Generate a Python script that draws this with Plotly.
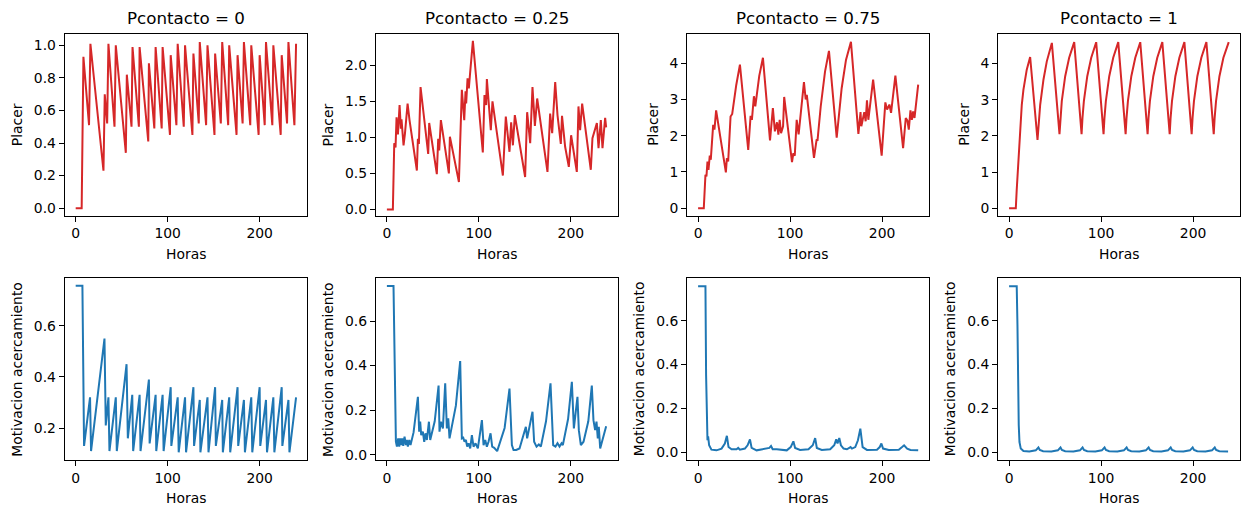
import plotly.graph_objects as go

# ---------------- data ----------------
titles = ["Pcontacto = 0", "Pcontacto = 0.25", "Pcontacto = 0.75", "Pcontacto = 1"]
top_label = "Placer"
bottom_label = "Motivacion acercamiento"
x_label = "Horas"

placer_p0_x = [0, 6.5, 8.4, 14.5, 16, 30.2, 31.6, 34.2, 35.6, 42.2, 43.6, 54.5, 55.6, 60.7, 61.8, 68.7, 69.5,
               78.9, 79.6, 85.5, 86.9, 93.5, 94.5, 102.5, 103.3, 109.5, 110.9, 117.5, 118.9, 126.9, 128,
               133.8, 134.9, 141.8, 143.3, 150.9, 151.6, 157.8, 159.3, 165.8, 166.9, 174.9, 176, 181.5,
               182.9, 189.8, 190.9, 198.9, 200, 205.5, 206.9, 213.8, 214.9, 222.9, 224, 229.8, 231.3,
               237.8, 239.6]
placer_p0_y = [0, 0, 0.93, 0.51, 1.01, 0.23, 0.70, 0.52, 1.01, 0.50, 1.00, 0.34, 0.82, 0.50, 0.99, 0.50, 0.99,
               0.41, 0.89, 0.49, 0.99, 0.49, 0.99, 0.45, 0.94, 0.51, 1.01, 0.50, 1.00, 0.45, 0.95,
               0.52, 1.02, 0.51, 1.00, 0.45, 0.95, 0.52, 1.02, 0.51, 1.00, 0.45, 0.94, 0.52,
               1.02, 0.51, 1.00, 0.45, 0.94, 0.51, 1.02, 0.51, 1.00, 0.45, 0.94, 0.52, 1.02,
               0.51, 1.01]

motiv_p0_x = [0, 7.3, 9.1, 15.6, 16.7, 31.3, 32.7, 35.6, 36.7, 43.6, 44.7, 55.3, 56.7, 61.5, 62.5, 69.5, 70.5,
              79.6, 80.4, 86.9, 87.6, 94.5, 95.6, 103.3, 104, 110.9, 112, 118.9, 120, 128, 128.7, 134.9,
              135.6, 143.3, 144.4, 151.6, 152.4, 159.3, 160, 166.9, 168, 176, 176.7, 182.9, 184, 190.9,
              192, 200, 200.7, 206.9, 208, 214.9, 216, 224, 224.7, 231.3, 232.4, 239.6]
motiv_p0_y = [0.757, 0.757, 0.13, 0.32, 0.11, 0.55, 0.21, 0.32, 0.11, 0.32, 0.11, 0.45, 0.16, 0.33, 0.11, 0.33, 0.11,
              0.39, 0.14, 0.33, 0.11, 0.33, 0.11, 0.36, 0.13, 0.32, 0.105, 0.32, 0.105, 0.36, 0.13, 0.31,
              0.105, 0.32, 0.105, 0.36, 0.13, 0.31, 0.105, 0.32, 0.105, 0.36, 0.13, 0.31, 0.105, 0.32,
              0.105, 0.36, 0.13, 0.31, 0.105, 0.32, 0.105, 0.36, 0.13, 0.31, 0.105, 0.32]

placer_p025_x = [0, 6.5, 8.0, 9.4, 10.5, 12.0, 13.8, 15.2, 15.9, 18.1, 19.6, 22.5, 24.6, 32.6, 33.7, 34.8, 36.6,
                 44.9, 46.0, 54.3, 55.8, 56.9, 58.7, 67.4, 68.5, 78.3, 81.5, 84.1, 85.5, 86.2, 87.7, 89.1,
                 90.2, 93.5, 104.3, 106.1, 107.9, 108.7, 113.0, 114.8, 126.1, 127.8, 129.3, 133.3, 135.1,
                 137.0, 139.1, 150.3, 152.5, 155.8, 158.3, 160.9, 163.4, 174.6, 176.1, 177.5, 179.7, 183.0,
                 185.5, 189.1, 190.4, 193.8, 197.8, 200.3, 206.5, 208.3, 210.1, 212.3,
                 221.7, 223.5, 228.3, 230.1, 232.6, 234.4, 237.3, 238.4]
placer_p025_y = [0, 0, 0.92, 0.86, 1.28, 1.04, 1.45, 1.12, 1.25, 0.89, 1.05, 1.47, 1.24, 0.54, 0.98, 0.91, 1.70,
                 0.77, 1.20, 0.49, 0.98, 0.82, 1.24, 0.50, 1.01, 0.38, 1.66, 1.24, 1.64, 1.47, 1.82, 1.68,
                 1.85, 2.34, 0.79, 1.59, 1.45, 1.81, 1.10, 1.50, 0.47, 0.95, 1.29, 0.80, 1.21,
                 0.89, 1.31, 0.45, 1.35, 0.92, 1.70, 1.16, 1.54, 0.52, 1.01, 1.33, 1.06, 1.77,
                 1.31, 0.91, 1.30, 0.87, 0.59, 1.03, 0.52, 1.43, 1.10, 1.47,
                 0.55, 0.99, 1.20, 0.85, 1.24, 0.85, 1.27, 1.14]

motiv_p025_x = [0, 7.2, 9.8, 10.9, 12.3, 13.4, 14.5, 15.6, 16.7, 17.8, 19.2, 20.7, 21.7, 22.8, 24.3, 25.7, 29.0,
                33.7, 35.1, 36.2, 37.3, 39.1, 40.6, 42.0, 43.5, 45.7, 47.1, 52.0, 56.2, 57.2, 58.7, 60.9,
                63.4, 65.2, 66.7, 68.1, 75.0, 79.7, 81.5, 83.0, 84.4, 85.9, 87.3, 88.8, 90.6, 92.4, 94.2,
                96.4, 98.9, 103.3, 105.1, 106.9, 108.7, 110.5, 112.7, 114.5, 116.7, 119.9, 128.0, 133.3,
                135.9, 137.7, 140.6, 144.2, 151.1, 152.5, 158.3, 160.1, 162.7, 165.2, 167.4, 173.0, 177.9,
                180.8, 183.3, 185.5, 187.7, 189.9, 191.3, 197.0, 201.1, 203.3, 207.2, 208.7, 210.9, 213.8,
                219.0, 222.8, 224.6, 226.4, 227.9, 229.3, 230.4, 231.9, 238.4]
motiv_p025_y = [0.757, 0.757, 0.058, 0.036, 0.073, 0.036, 0.073, 0.043, 0.073, 0.040, 0.081, 0.043, 0.066, 0.036,
                0.066, 0.043, 0.10, 0.26, 0.103, 0.148, 0.088, 0.103, 0.058, 0.096, 0.066, 0.148, 0.066,
                0.15, 0.31, 0.103, 0.148, 0.118, 0.32, 0.118, 0.163, 0.073, 0.22, 0.42, 0.073, 0.076,
                0.058, 0.066, 0.036, 0.051, 0.028, 0.088, 0.036, 0.051, 0.028, 0.155, 0.043, 0.066,
                0.036, 0.058, 0.096, 0.036, 0.031, 0.016, 0.12, 0.297, 0.043, 0.021, 0.021, 0.028,
                0.125, 0.073, 0.193, 0.058, 0.036, 0.046, 0.036, 0.15, 0.32, 0.043, 0.036, 0.051,
                0.036, 0.051, 0.043, 0.16, 0.327, 0.118, 0.26, 0.110, 0.043, 0.058, 0.15, 0.31,
                0.155, 0.110, 0.148, 0.073, 0.125, 0.028, 0.128]

placer_p075_x = [0, 6.2, 8.0, 9.1, 10.2, 11.3, 12.7, 13.8, 16.4, 17.8, 19.6, 30.2, 31.3, 32.7, 35.3, 37.1, 41.5,
                 45.5, 54.5, 57.1, 58.5, 60.7, 62.2, 66.5, 70.5, 78.2, 81.3, 83.5, 85.8, 87.3, 88.7, 90.2,
                 92.4, 93.6, 102.1, 103.6, 105.1, 107.2, 109.3, 115.1, 117.0, 118.2, 126.0, 128.9, 129.8,
                 133.3, 138.0, 142.3, 150.7, 156.1, 160.8, 166.2, 174.3, 176.6, 177.5, 178.9, 180.7, 182.2,
                 183.6, 185.1, 186.5, 190.3, 199.6, 203.6, 205.5, 208.0, 209.8, 214.5, 222.9, 225.8, 227.6,
                 229.1, 230.9, 232.4, 233.8, 235.3, 239.3]
placer_p075_y = [0, 0, 0.92, 0.88, 1.29, 1.06, 1.45, 1.34, 2.30, 2.17, 2.70, 0.99, 1.38, 1.29, 2.53, 2.60, 3.40,
                 3.96, 1.61, 2.55, 2.44, 3.09, 2.81, 3.65, 4.15, 1.87, 2.76, 2.12, 2.37, 2.03, 2.44, 2.07,
                 2.26, 3.07, 1.27, 1.52, 1.45, 2.44, 2.04, 3.48, 3.00, 3.13, 1.39, 1.90, 1.86,
                 2.80, 3.77, 4.34, 1.95, 3.31, 4.09, 4.59, 2.05, 2.65, 2.26, 2.44, 2.65, 2.40,
                 2.98, 2.44, 2.74, 3.55, 1.45, 2.92, 2.72, 2.86, 2.63, 3.66, 1.66, 2.49, 2.42,
                 2.17, 2.70, 2.44, 2.67, 2.49, 3.41]

motiv_p075_x = [0, 8.0, 8.7, 9.5, 10.2, 10.9, 12.0, 14.5, 20.0, 25.5, 29.1, 31.3, 33.1, 36.4, 41.8, 43.6, 45.5,
                50.9, 53.8, 56.4, 58.2, 63.6, 72.7, 77.5, 79.3, 81.1, 85.5, 96.4, 100.7, 103.6, 105.5,
                110.9, 120.0, 124.7, 127.3, 129.1, 134.5, 143.6, 148.0, 150.2, 151.6, 153.5, 155.3, 158.2,
                161.8, 164.4, 165.8, 167.3, 170.9, 173.8, 176.4, 178.9, 183.6, 194.5, 197.5, 199.3, 201.1,
                207.3, 218.2, 221.8, 224.0, 227.3, 230.9, 239.3]
motiv_p075_y = [0.757, 0.757, 0.352, 0.139, 0.055, 0.073, 0.032, 0.012, 0.009, 0.017, 0.040, 0.075, 0.024, 0.014,
                0.014, 0.020, 0.012, 0.017, 0.032, 0.059, 0.020, 0.009, 0.014, 0.020, 0.029, 0.014, 0.014,
                0.009, 0.024, 0.050, 0.020, 0.011, 0.014, 0.032, 0.065, 0.020, 0.011, 0.014, 0.032, 0.059,
                0.040, 0.065, 0.032, 0.017, 0.014, 0.020, 0.024, 0.017, 0.024, 0.055, 0.108, 0.024, 0.011,
                0.012, 0.024, 0.040, 0.017, 0.011, 0.012, 0.024, 0.032, 0.017, 0.011, 0.009]

placer_p1_x = [0, 7.3, 8.3, 10.2, 12.0, 13.8, 15.6, 19.2, 22.9, 30.9, 33.8, 37.4, 41.0, 46.5,
               54.8, 55.8, 57.3, 61.0, 65.3, 70.8,
               78.8, 79.8, 81.3, 85.0, 89.3, 94.7,
               102.7, 103.7, 105.2, 108.9, 113.2, 118.7,
               126.7, 127.7, 129.2, 132.9, 137.2, 142.6,
               150.6, 151.6, 153.1, 156.8, 161.1, 166.6,
               174.6, 175.6, 177.1, 180.8, 185.1, 190.6,
               198.5, 199.5, 201.0, 204.7, 209.0, 214.5,
               222.5, 223.5, 225.0, 228.7, 233.0, 238.8]
placer_p1_y = [0, 0, 0.51, 1.43, 2.26, 2.86, 3.28, 3.83, 4.18, 1.89, 2.86, 3.56, 4.06, 4.57,
               2.05, 2.50, 2.96, 3.65, 4.16, 4.59,
               2.05, 2.50, 2.96, 3.65, 4.16, 4.59,
               2.05, 2.50, 2.96, 3.65, 4.16, 4.59,
               2.05, 2.50, 2.96, 3.65, 4.16, 4.59,
               2.05, 2.50, 2.96, 3.65, 4.16, 4.59,
               2.05, 2.50, 2.96, 3.65, 4.16, 4.59,
               2.05, 2.50, 2.96, 3.65, 4.16, 4.59,
               2.05, 2.50, 2.96, 3.65, 4.16, 4.59]

motiv_p1_x = [0, 8.3, 9.1, 9.8, 10.5, 11.3, 12.7, 15.6,
              22.0, 29.0, 31.9, 33.4, 37.0,
              46.0, 53.0, 55.9, 57.4, 61.0,
              70.0, 77.0, 79.9, 81.4, 85.0,
              93.8, 100.8, 103.8, 105.3, 108.8,
              117.8, 124.8, 127.8, 129.3, 132.8,
              141.7, 148.7, 151.7, 153.2, 156.7,
              165.7, 172.7, 175.7, 177.2, 180.7,
              189.6, 196.6, 199.6, 201.1, 204.6,
              213.6, 220.6, 223.6, 225.1, 228.6,
              238.1]
motiv_p1_y = [0.757, 0.757, 0.58, 0.276, 0.123, 0.047, 0.017, 0.006,
              0.004, 0.009, 0.022, 0.011, 0.005,
              0.004, 0.009, 0.022, 0.011, 0.005,
              0.004, 0.009, 0.022, 0.011, 0.005,
              0.004, 0.009, 0.022, 0.011, 0.005,
              0.004, 0.009, 0.022, 0.011, 0.005,
              0.004, 0.009, 0.022, 0.011, 0.005,
              0.004, 0.009, 0.022, 0.011, 0.005,
              0.004, 0.009, 0.022, 0.011, 0.005,
              0.004, 0.009, 0.022, 0.011, 0.005,
              0.004]

x_ticks = [0, 100, 200]
top_yticks = [[0.0, 0.2, 0.4, 0.6, 0.8, 1.0], [0.0, 0.5, 1.0, 1.5, 2.0], [0, 1, 2, 3, 4], [0, 1, 2, 3, 4]]
top_yfmt = [".1f", ".1f", "d", "d"]
bottom_yticks = [[0.2, 0.4, 0.6], [0.0, 0.2, 0.4, 0.6], [0.0, 0.2, 0.4, 0.6], [0.0, 0.2, 0.4, 0.6]]

# ---------------- layout geometry ----------------
W, H = 1242, 505
RED, BLUE = "#d62728", "#1f77b4"
FONT = "DejaVu Sans"
lefts = [64.7, 375.9, 687.1, 998.1]
pw = 241.8
top_row = (33.5, 215.5)
bot_row = (278.3, 460.0)
x_range = [-11.95, 250.95]
top_yr = [[-0.045, 1.073], [-0.085, 2.443], [-0.2, 4.82], [-0.2, 4.83]]
bot_yr = [[0.075, 0.786], [-0.024, 0.792], [-0.035, 0.793], [-0.035, 0.793]]
ylab_off_top = [48, 48, 34.8, 34.8]
ylab_off_bot = [48, 48, 48, 48]

tops = [(placer_p0_x, placer_p0_y), (placer_p025_x, placer_p025_y),
        (placer_p075_x, placer_p075_y), (placer_p1_x, placer_p1_y)]
bots = [(motiv_p0_x, motiv_p0_y), (motiv_p025_x, motiv_p025_y),
        (motiv_p075_x, motiv_p075_y), (motiv_p1_x, motiv_p1_y)]

fig = go.Figure()
layout = dict(width=W, height=H, margin=dict(l=0, r=0, t=0, b=0),
              paper_bgcolor="white", plot_bgcolor="white", showlegend=False,
              font=dict(family=FONT, size=13.9, color="black"))
annotations = []


def ax_common():
    return dict(showline=True, mirror=True, linecolor="black", linewidth=1,
                ticks="outside", ticklen=5, tickwidth=1, tickcolor="black",
                showgrid=False, zeroline=False, automargin=False,
                tickfont=dict(family=FONT, size=13.9, color="black"))


def add_ann(text, px, py, size=13.9, angle=0):
    annotations.append(dict(text=text, x=px / W, y=1 - py / H, xref="paper", yref="paper",
                            xanchor="center", yanchor="middle", showarrow=False, textangle=angle,
                            font=dict(family=FONT, size=size, color="black")))


n = 1
for row, (series, yr, ytv, color, (rt, rb), lab, offs) in enumerate([
        (tops, top_yr, top_yticks, RED, top_row, top_label, ylab_off_top),
        (bots, bot_yr, bottom_yticks, BLUE, bot_row, bottom_label, ylab_off_bot)]):
    for c in range(4):
        xa = "xaxis" if n == 1 else f"xaxis{n}"
        ya = "yaxis" if n == 1 else f"yaxis{n}"
        xs, ys = series[c]
        fig.add_trace(go.Scatter(x=xs, y=ys, mode="lines",
                                 line=dict(color=color, width=2),
                                 xaxis=f"x{n}" if n > 1 else "x", yaxis=f"y{n}" if n > 1 else "y"))
        xd = dict(ax_common(), domain=[lefts[c] / W, (lefts[c] + pw) / W], range=x_range,
                  tickmode="array", tickvals=x_ticks, anchor=f"y{n}" if n > 1 else "y")
        fmt = top_yfmt[c] if row == 0 else ".1f"
        yd = dict(ax_common(), domain=[1 - rb / H, 1 - rt / H], range=yr[c],
                  tickmode="array", tickvals=ytv[c], tickformat=fmt, anchor=f"x{n}" if n > 1 else "x")
        layout[xa] = xd
        layout[ya] = yd
        cx = lefts[c] + pw / 2
        add_ann(x_label, cx, rb + 38)
        add_ann(lab, lefts[c] - offs[c], (rt + rb) / 2, angle=-90)
        if row == 0:
            add_ann(titles[c], cx, 18, size=16.7)
        n += 1

layout["annotations"] = annotations
fig.update_layout(**layout)
fig.write_html("out.html")
